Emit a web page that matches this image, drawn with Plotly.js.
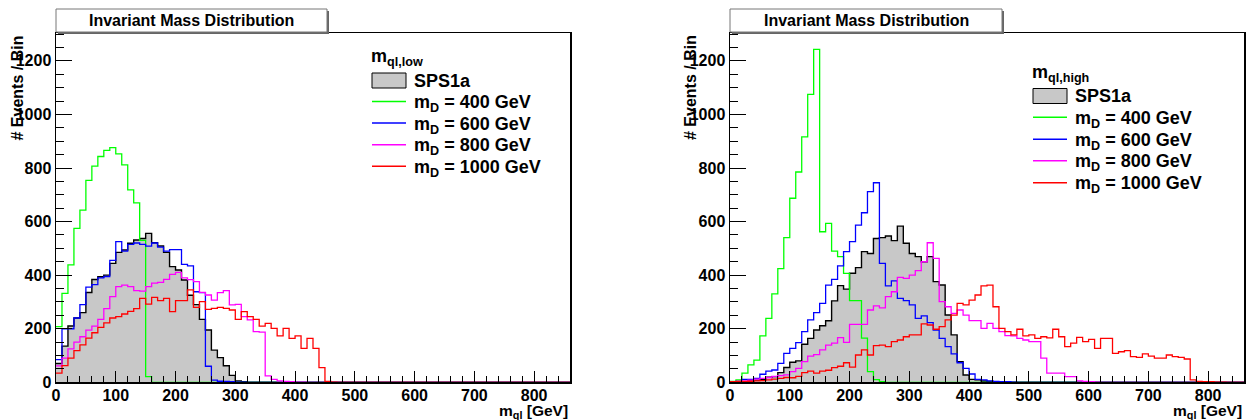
<!DOCTYPE html>
<html><head><meta charset="utf-8">
<script src="https://cdn.plot.ly/plotly-3.0.1.min.js"></script>
<style>html,body{margin:0;padding:0;background:#fff}#chart{width:1253px;height:420px}</style>
</head><body><div id="chart"></div>
<script>
// ---- data: events per 10 GeV bin, m_ql from 0 to 860 GeV ----
const binWidth = 10;
const xMax = 860;
const xTicks = [0,100,200,300,400,500,600,700,800];
const yTicks = [0,200,400,600,800,1000,1200];
const seriesNames = ['SPS1a','m<sub>D</sub> = 400 GeV','m<sub>D</sub> = 600 GeV','m<sub>D</sub> = 800 GeV','m<sub>D</sub> = 1000 GeV'];

// m_ql,low panel
const spsLow = [70,135,210,240,260,335,384,394,400,444, 485,494,519,531,537,556,521,509,485,432, 419,382,325,290,235,195,120,92,62,26, 5,2,0,0,0,0,0,0,0,0, 0,0,0,0,0,0,0,0,0,0, 0,0,0,0,0,0,0,0,0,0, 0,0,0,0,0,0,0,0,0,0, 0,0,0,0,0,0,0,0,0,0, 0,0,0,0,0,0];
const md400Low = [208,332,438,575,643,754,807,843,866,876, 853,812,718,670,530,21,0,0,0,0, 0,0,0,0,0,0,0,0,0,0, 0,0,0,0,0,0,0,0,0,0, 0,0,0,0,0,0,0,0,0,0, 0,0,0,0,0,0,0,0,0,0, 0,0,0,0,0,0,0,0,0,0, 0,0,0,0,0,0,0,0,0,0, 0,0,0,0,0,0];
const md600Low = [85,200,200,240,290,355,365,390,395,455, 525,490,515,520,515,508,520,505,490,495, 495,440,435,338,335,60,8,4,3,2, 1,1,0,0,0,0,0,0,0,0, 0,0,0,0,0,0,0,0,0,0, 0,0,0,0,0,0,0,0,0,0, 0,0,0,0,0,0,0,0,0,0, 0,0,0,0,0,0,0,0,0,0, 0,0,0,0,0,0];
const md800Low = [61,90,125,150,170,195,210,235,275,320, 357,363,357,342,340,357,370,373,384,403, 410,390,383,376,336,326,307,335,342,289, 291,245,233,189,187,24,11,5,3,2, 1,1,0,0,0,0,0,0,0,0, 0,0,0,0,0,0,0,0,0,0, 0,0,0,0,0,0,0,0,0,0, 0,0,0,0,0,0,0,0,0,0, 0,0,0,0,0,0];
const md1000Low = [34,62,90,118,140,165,185,205,222,240, 245,255,265,275,313,292,317,305,313,264, 305,305,345,280,301,272,276,280,276,270, 235,264,245,235,210,220,201,173,201,164, 173,127,164,127,55,3,1,0,0,0, 0,0,0,0,0,0,0,0,0,0, 0,0,0,0,0,0,0,0,0,0, 0,0,0,0,0,0,0,0,0,0, 0,0,0,0,0,0];

// m_ql,high panel
const spsHigh = [0,0,2,5,8,10,19,21,36,55, 75,80,142,164,195,211,230,304,361,348, 407,428,488,481,537,540,546,529,583,519, 481,469,450,469,376,363,251,177,77,27, 11,9,5,3,2,1,0,0,0,0, 0,0,0,0,0,0,0,0,0,0, 0,0,0,0,0,0,0,0,0,0, 0,0,0,0,0,0,0,0,0,0, 0,0,0,0,0,0];
const md400High = [3,9,34,65,83,173,239,330,424,540, 687,785,916,1075,1243,562,593,490,469,407, 305,305,165,40,10,2,0,0,0,0, 0,0,0,0,0,0,0,0,0,0, 0,0,0,0,0,0,0,0,0,0, 0,0,0,0,0,0,0,0,0,0, 0,0,0,0,0,0,0,0,0,0, 0,0,0,0,0,0,0,0,0,0, 0,0,0,0,0,0];
const md600High = [1,3,11,11,15,30,42,46,71,108, 127,148,189,233,260,295,363,384,435,488, 525,587,633,712,745,444,360,379,313,305, 289,239,248,223,195,164,133,106,73,52, 31,11,9,5,3,2,2,1,0,0, 0,0,0,0,0,0,0,0,0,0, 0,0,0,0,0,0,0,0,0,0, 0,0,0,0,0,0,0,0,0,0, 0,0,0,0,0,0];
const md800High = [2,3,5,8,12,15,18,22,25,28, 40,52,77,98,103,121,139,146,167,149, 216,216,216,270,285,278,320,338,392,388, 400,417,450,521,463,301,282,257,270,251, 230,230,201,220,201,189,174,173,164,158, 152,152,90,34,34,34,21,21,5,3, 2,1,0,0,0,0,0,0,0,0, 0,0,0,0,0,0,0,0,0,0, 0,0,0,0,0,0];
const md1000High = [2,3,3,4,5,6,9,12,15,18, 17,22,36,42,34,42,45,55,60,73, 57,102,121,102,137,139,133,152,158,170, 177,177,218,214,198,208,233,251,295,289, 307,326,360,363,282,201,189,177,198,173, 177,164,170,166,198,170,133,146,168,152, 160,127,164,164,108,114,118,96,93,106, 98,90,90,102,96,93,87,9,3,2, 2,1,1,0,0,0];

// ---- styling ----
const W = 1253, H = 420;
const colors = ['#000000','#00ff00','#0000ff','#ff00ff','#ff0000'];
const grayFill = '#c8c8c8';
const FONT = 'Liberation Sans, Arial, Helvetica, sans-serif';
const px = v => v / W;
const py = v => 1 - v / H;

function stepTrace(vals, xa, ya, color, filled) {
  const x = vals.map((v, i) => i * binWidth);
  x.push(vals.length * binWidth);
  const y = vals.slice();
  y.push(vals[vals.length - 1]);
  return {
    type: 'scatter', mode: 'lines', x: x, y: y, xaxis: xa, yaxis: ya,
    line: {shape: 'hv', color: color, width: filled ? 1.4 : 1.3},
    fill: filled ? 'tozeroy' : 'none', fillcolor: grayFill,
    hoverinfo: 'skip', showlegend: false
  };
}

const panels = [
  {xa: 'x', ya: 'y', data: [spsLow, md400Low, md600Low, md800Low, md1000Low]},
  {xa: 'x2', ya: 'y2', data: [spsHigh, md400High, md600High, md800High, md1000High]}
];
const traces = [];
panels.forEach(p => {
  p.data.forEach((vals, i) => traces.push(stepTrace(vals, p.xa, p.ya, colors[i], i === 0)));
});

const tickFont = {family: FONT, size: 16, color: '#000', weight: 'bold'};
function xAxis(domain, anchor) {
  return {domain: domain, anchor: anchor, range: [0, xMax], tickmode: 'array', tickvals: xTicks,
    ticktext: xTicks.map(String), ticks: 'inside', ticklen: 11, tickwidth: 1, tickcolor: '#000',
    ticklabelstandoff: -2,
    minor: {ticks: 'inside', ticklen: 6, dtick: 20, tick0: 0, tickcolor: '#000', tickwidth: 1, showgrid: false},
    showline: true, linecolor: '#000', linewidth: 1.5, mirror: true, showgrid: false, zeroline: false,
    tickfont: tickFont, fixedrange: true};
}
function yAxis(domain, anchor) {
  return {domain: domain, anchor: anchor, range: [0, 1304], tickmode: 'array', tickvals: yTicks,
    ticktext: yTicks.map(String), ticks: 'inside', ticklen: 16, tickwidth: 1, tickcolor: '#000',
    minor: {ticks: 'inside', ticklen: 8, dtick: 50, tick0: 0, tickcolor: '#000', tickwidth: 1, showgrid: false},
    showline: true, linecolor: '#000', linewidth: 1.5, mirror: true, showgrid: false, zeroline: false,
    tickfont: tickFont, fixedrange: true};
}
const yDom = [1 - 382.3 / H, 1 - 33 / H];

const shapes = [];
const annotations = [];

// title boxes + axis titles + legends, one per panel
const panelGeom = [
  {left: 56, right: 570, boxRight: 327, ytitleX: 16.5,
   legX0: 372, legX1: 406, legText: 412, headerX: 369, headerY: 58, header: 'm<sub>ql,low</sub>',
   rows: [80.5, 101.5, 123, 144.7, 166.3]},
  {left: 730, right: 1244, boxRight: 1002, ytitleX: 690,
   legX0: 1033, legX1: 1067, legText: 1073, headerX: 1030, headerY: 73, header: 'm<sub>ql,high</sub>',
   rows: [96, 117.3, 139.3, 160.7, 182.7]}
];
panelGeom.forEach(g => {
  // title pave with shadow
  shapes.push({type: 'rect', xref: 'paper', yref: 'paper', x0: px(g.left + 2), x1: px(g.boxRight + 2),
    y0: py(34), y1: py(11), fillcolor: '#666', line: {width: 0}});
  shapes.push({type: 'rect', xref: 'paper', yref: 'paper', x0: px(g.left), x1: px(g.boxRight),
    y0: py(32), y1: py(9), fillcolor: '#fff', line: {color: '#777', width: 1}});
  annotations.push({xref: 'paper', yref: 'paper', x: px((g.left + g.boxRight) / 2), y: py(20.5),
    xanchor: 'center', yanchor: 'middle', showarrow: false, text: '<b>Invariant Mass Distribution</b>',
    font: {family: FONT, size: 16, color: '#000'}});
  // axis titles
  annotations.push({xref: 'paper', yref: 'paper', x: px(g.right), y: py(411), xanchor: 'right', yanchor: 'middle',
    showarrow: false, text: '<b>m<sub>ql</sub> [GeV]</b>', font: {family: FONT, size: 15.5, color: '#000'}});
  annotations.push({xref: 'paper', yref: 'paper', x: px(g.ytitleX), y: py(88), xanchor: 'center', yanchor: 'middle',
    textangle: -90, showarrow: false, text: '<b># Events / Bin</b>', font: {family: FONT, size: 16, color: '#000'}});
  // legend header
  annotations.push({xref: 'paper', yref: 'paper', x: px(g.headerX), y: py(g.headerY), xanchor: 'left', yanchor: 'middle',
    showarrow: false, text: '<b>' + g.header + '</b>', font: {family: FONT, size: 18, color: '#000'}});
  // legend entries
  g.rows.forEach((ry, i) => {
    if (i === 0) {
      shapes.push({type: 'rect', xref: 'paper', yref: 'paper', x0: px(g.legX0), x1: px(g.legX1),
        y0: py(ry + 7.5), y1: py(ry - 7.5), fillcolor: grayFill, line: {color: '#000', width: 1}});
    } else {
      shapes.push({type: 'line', xref: 'paper', yref: 'paper', x0: px(g.legX0), x1: px(g.legX1),
        y0: py(ry), y1: py(ry), line: {color: colors[i], width: 1.5}});
    }
    annotations.push({xref: 'paper', yref: 'paper', x: px(g.legText), y: py(ry + (i === 0 ? 0 : 2)),
      xanchor: 'left', yanchor: 'middle', showarrow: false, text: '<b>' + seriesNames[i] + '</b>',
      font: {family: FONT, size: 18, color: '#000'}});
  });
});

const layout = {
  width: W, height: H, margin: {l: 0, r: 0, t: 0, b: 0},
  paper_bgcolor: '#fff', plot_bgcolor: '#fff', showlegend: false,
  xaxis: xAxis([px(56), px(570)], 'y'),
  yaxis: yAxis(yDom, 'x'),
  xaxis2: xAxis([px(730), px(1244)], 'y2'),
  yaxis2: yAxis(yDom, 'x2'),
  shapes: shapes, annotations: annotations,
  font: {family: FONT}
};
Plotly.newPlot('chart', traces, layout, {displayModeBar: false, staticPlot: true});
</script>
</body></html>
